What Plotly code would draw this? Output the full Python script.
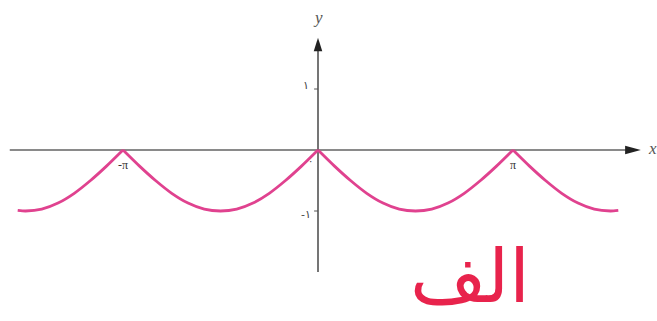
import plotly.graph_objects as go

# Curve samples: x in multiples of pi, y = value of the plotted function
x_pi = [-1.54, -1.5, -1.4167, -1.3333, -1.25, -1.1667, -1.0833,
        -1.0, -0.9167, -0.8333, -0.75, -0.6667, -0.5833,
        -0.5, -0.4167, -0.3333, -0.25, -0.1667, -0.0833,
        0.0, 0.0833, 0.1667, 0.25, 0.3333, 0.4167,
        0.5, 0.5833, 0.6667, 0.75, 0.8333, 0.9167,
        1.0, 1.0833, 1.1667, 1.25, 1.3333, 1.4167, 1.5, 1.54]
y_vals = [-0.99, -1.0, -0.97, -0.87, -0.71, -0.5, -0.26,
          0.0, -0.26, -0.5, -0.71, -0.87, -0.97,
          -1.0, -0.97, -0.87, -0.71, -0.5, -0.26,
          0.0, -0.26, -0.5, -0.71, -0.87, -0.97,
          -1.0, -0.97, -0.87, -0.71, -0.5, -0.26,
          0.0, -0.26, -0.5, -0.71, -0.87, -0.97, -1.0, -0.99]
# Cusp positions (multiples of pi) where the curve is split into smooth arches
cusps = [-1.0, 0.0, 1.0]

x_tick_vals = [-1.0, 1.0]
x_tick_text = ["-π", "π"]
y_tick_vals = [1.0, -1.0]
y_tick_text = ["۱", "-۱"]
caption = "الف"

CURVE = "#e0428f"
AXIS = "#8a8a8a"
XR = [-1.6308, 1.7385]
YR = [-2.803, 2.459]

fig = go.Figure()

# split into arches so that spline smoothing keeps the cusps sharp
bounds = [0] + [x_pi.index(c) for c in cusps] + [len(x_pi) - 1]
for a, b in zip(bounds[:-1], bounds[1:]):
    fig.add_trace(go.Scatter(
        x=x_pi[a:b + 1], y=y_vals[a:b + 1], mode="lines",
        line=dict(color=CURVE, width=2.8, shape="spline", smoothing=0.6),
        hoverinfo="skip", showlegend=False))

shapes = []
# x axis line and arrowhead
shapes.append(dict(type="line", xref="x", yref="y", x0=XR[0] + 0.05, x1=1.62,
                   y0=0, y1=0, line=dict(color=AXIS, width=2.2), layer="below"))
shapes.append(dict(type="path", xref="x", yref="y",
                   path="M 1.575 0.07 L 1.6555 0 L 1.575 -0.07 Z",
                   fillcolor="#222222", line=dict(width=0)))
# y axis line and arrowhead
shapes.append(dict(type="line", xref="x", yref="y", x0=0, x1=0,
                   y0=-1.999, y1=1.7, line=dict(color="#666666", width=1.8), layer="below"))
shapes.append(dict(type="path", xref="x", yref="y",
                   path="M -0.022 1.62 L 0 1.84 L 0.022 1.62 Z",
                   fillcolor="#222222", line=dict(width=0)))
# tick marks
for v in y_tick_vals:
    shapes.append(dict(type="line", xref="x", yref="y", x0=-0.02, x1=0.0,
                       y0=v, y1=v, line=dict(color="#555555", width=1)))

annotations = []
for v, t in zip(x_tick_vals, x_tick_text):
    annotations.append(dict(x=v, y=-0.25, xref="x", yref="y", text=t,
                            showarrow=False, font=dict(family="Liberation Serif", size=12, color="#333333")))
for v, t, dy in zip(y_tick_vals, y_tick_text, [0.06, -0.05]):
    annotations.append(dict(x=-0.06, y=v + dy, xref="x", yref="y", text=t,
                            showarrow=False, font=dict(family="DejaVu Sans", size=11, color="#444444")))
annotations.append(dict(x=-0.04, y=-0.17, xref="x", yref="y", text="۰", showarrow=False,
                        font=dict(family="DejaVu Sans", size=10, color="#444444")))
annotations.append(dict(x=0.0, y=2.17, xref="x", yref="y", text="<i>y</i>", showarrow=False,
                        font=dict(family="Liberation Serif", size=17, color="#555555")))
annotations.append(dict(x=1.715, y=0.02, xref="x", yref="y", text="<i>x</i>", showarrow=False,
                        font=dict(family="Liberation Serif", size=17, color="#555555")))
annotations.append(dict(x=470 / 657, y=1 - 276 / 321, xref="paper", yref="paper",
                        xanchor="center", yanchor="middle", text=caption, showarrow=False,
                        font=dict(family="DejaVu Sans", size=74, color="#e8234c")))

fig.update_layout(
    width=657, height=321,
    margin=dict(l=0, r=0, t=0, b=0),
    paper_bgcolor="white", plot_bgcolor="white",
    xaxis=dict(range=XR, visible=False, fixedrange=True),
    yaxis=dict(range=YR, visible=False, fixedrange=True),
    shapes=shapes, annotations=annotations,
)

fig.write_html("out.html")
